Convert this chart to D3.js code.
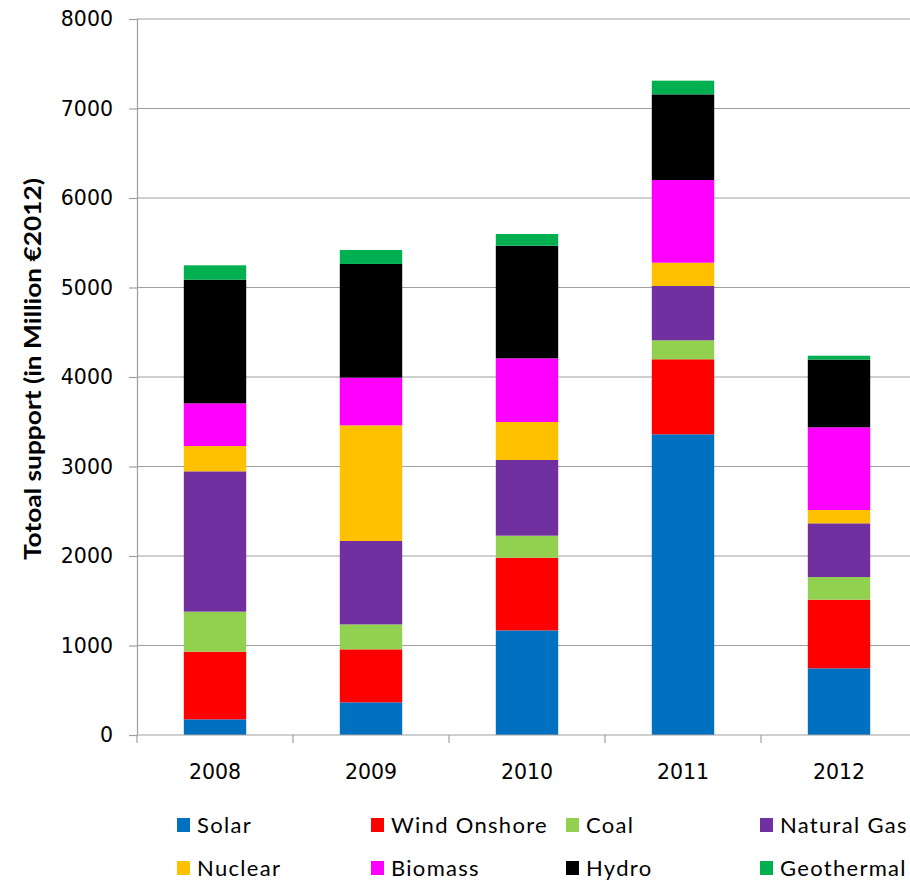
<!DOCTYPE html>
<html>
<head>
<meta charset="utf-8">
<script src="https://cdn.jsdelivr.net/npm/d3@7"></script>
<style>
  html, body { margin: 0; padding: 0; background: #fff; }
  svg { display: block; }
</style>
</head>
<body>
<svg id="chart" width="910" height="883"></svg>
<script>
// Support by technology, million €2012
const years = ["2008", "2009", "2010", "2011", "2012"];
const technologies = ["Solar", "Wind Onshore", "Coal", "Natural Gas", "Nuclear", "Biomass", "Hydro", "Geothermal"];
const solar       = [175, 365, 1169, 3360, 745];
const windOnshore = [756, 592, 812, 838, 767];
const coal        = [447, 279, 246, 212, 253];
const naturalGas  = [1568, 932, 846, 607, 600];
const nuclear     = [283, 1292, 424, 260, 149];
const biomass     = [477, 533, 712, 924, 924];
const hydro       = [1381, 1270, 1258, 957, 756];
const geothermal  = [161, 156, 131, 153, 44];
const yTicks = [0, 1000, 2000, 3000, 4000, 5000, 6000, 7000, 8000];
const colors = ["#0070C0", "#FF0000", "#92D050", "#7030A0", "#FFC000", "#FF00FF", "#000000", "#00B050"];

const seriesValues = [solar, windOnshore, coal, naturalGas, nuclear, biomass, hydro, geothermal];
const rows = years.map((y, i) => {
  const r = { year: y };
  technologies.forEach((t, k) => { r[t] = seriesValues[k][i]; });
  return r;
});

const svg = d3.select("#chart");
const margin = { left: 137, top: 19, right: 0, bottom: 148 };
const plotW = 780, plotH = 716;

const x = d3.scaleBand().domain(years).range([margin.left, margin.left + plotW]).paddingInner(0.6).paddingOuter(0.3);
const y = d3.scaleLinear().domain([0, 8000]).range([margin.top + plotH, margin.top]);

const tickFont = "'DejaVu Sans', Verdana, sans-serif";
const legendFont = "Lato, 'Open Sans', sans-serif";
const axisGray = "#9f9f9f";

// horizontal gridlines
svg.append("g")
  .selectAll("line")
  .data(yTicks.slice(1))
  .join("line")
  .attr("x1", margin.left).attr("x2", margin.left + plotW)
  .attr("y1", d => y(d)).attr("y2", d => y(d))
  .attr("stroke", axisGray).attr("stroke-width", 1.2);

// stacked bars
const stack = d3.stack().keys(technologies)(rows);
svg.append("g")
  .selectAll("g")
  .data(stack)
  .join("g")
  .attr("fill", (d, i) => colors[i])
  .selectAll("rect")
  .data(d => d)
  .join("rect")
  .attr("x", d => x(d.data.year))
  .attr("width", x.bandwidth())
  .attr("y", d => y(d[1]))
  .attr("height", d => y(d[0]) - y(d[1]));

// y axis
const yAxis = svg.append("g")
  .attr("transform", `translate(${margin.left},0)`)
  .call(d3.axisLeft(y).tickValues(yTicks).tickSize(8).tickPadding(16).tickFormat(d3.format("d")));
yAxis.select(".domain").attr("stroke", axisGray).attr("stroke-width", 1.2);
yAxis.selectAll(".tick line").attr("stroke", axisGray).attr("stroke-width", 1.2);
yAxis.selectAll("text").attr("font-family", tickFont).attr("font-size", 20.5).attr("fill", "#000");

// x axis with boundary ticks between categories
const xAxisG = svg.append("g").attr("transform", `translate(0,${y(0)})`);
xAxisG.append("line")
  .attr("x1", margin.left).attr("x2", margin.left + plotW)
  .attr("stroke", axisGray).attr("stroke-width", 1.2);
xAxisG.selectAll("line.bound")
  .data(d3.range(years.length + 1))
  .join("line")
  .attr("class", "bound")
  .attr("x1", i => margin.left + i * x.step()).attr("x2", i => margin.left + i * x.step())
  .attr("y1", 0).attr("y2", 8)
  .attr("stroke", axisGray).attr("stroke-width", 1.2);
xAxisG.selectAll("text")
  .data(years)
  .join("text")
  .attr("x", d => x(d) + x.bandwidth() / 2)
  .attr("y", 44)
  .attr("text-anchor", "middle")
  .attr("font-family", tickFont).attr("font-size", 20.5)
  .text(d => d);

// y axis title
svg.append("text")
  .attr("transform", `translate(41,${369}) rotate(-90)`)
  .attr("text-anchor", "middle")
  .attr("font-family", legendFont).attr("font-weight", "bold").attr("font-size", 23)
  .attr("textLength", 382).attr("lengthAdjust", "spacingAndGlyphs")
  .text("Totoal support (in Million €2012)");

// legend
const legendX = [177, 371, 566, 760];
const legendY = [825, 868];
const legend = svg.append("g")
  .selectAll("g")
  .data(technologies)
  .join("g")
  .attr("transform", (d, i) => `translate(${legendX[i % 4]},${legendY[Math.floor(i / 4)]})`);
legend.append("rect")
  .attr("x", 0).attr("y", -7).attr("width", 13).attr("height", 14)
  .attr("fill", (d, i) => colors[i]);
legend.append("text")
  .attr("x", 20).attr("y", 0).attr("dy", "0.35em")
  .attr("font-family", legendFont).attr("font-size", 22)
  .attr("letter-spacing", 1.3)
  .text(d => d);
</script>
</body>
</html>
